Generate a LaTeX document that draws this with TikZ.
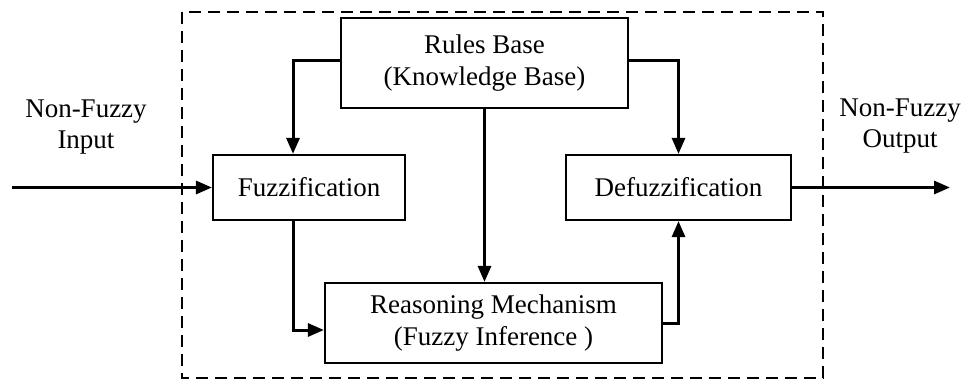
\documentclass[tikz,border=0pt]{standalone}
\usepackage{fontspec}
\setmainfont{Liberation Serif}
\usetikzlibrary{arrows.meta}
\begin{document}
\begin{tikzpicture}[x=1pt,y=-1pt,
  blk/.style={draw,line width=2.2pt,inner sep=0pt,align=center,
    font=\fontsize{27}{32}\selectfont},
  lbl/.style={align=center,font=\fontsize{27}{31}\selectfont},
  arr/.style={line width=3pt,-{Triangle[length=16pt,width=13pt]}}]
\useasboundingbox (0,0) rectangle (973,380);
\draw[line width=2.2pt,dash pattern=on 12pt off 7pt] (182,12) rectangle (823,378);
\node[blk,minimum width=287pt,minimum height=90pt] (rules) at (484.5,63) {Rules Base\\(Knowledge Base)};
\node[blk,minimum width=192pt,minimum height=65pt] (fuzz) at (309,187.5) {Fuzzification};
\node[blk,minimum width=225pt,minimum height=65pt] (defuzz) at (678.5,187.5) {Defuzzification};
\node[blk,minimum width=337pt,minimum height=80pt] (reason) at (493.5,323) {Reasoning Mechanism\\(Fuzzy Inference )};
\node[lbl] (inlbl) at (86,127) {Non-Fuzzy\\Input};
\node[lbl] (outlbl) at (900,126) {Non-Fuzzy\\Output};
\coordinate (in) at (12,187.5);
\coordinate (out) at (950,187.5);
\draw[arr] (in) -- (fuzz.west);
\draw[arr] (defuzz.east) -- (out);
\draw[arr] ([yshift=3pt]rules.west) -| ([xshift=-16pt]fuzz.north);
\draw[arr] ([yshift=3pt]rules.east) -| (defuzz.north);
\draw[arr] (rules.south) -- (rules.south |- reason.north);
\draw[arr] ([xshift=-16pt]fuzz.south) |- ([yshift=-7pt]reason.west);
\draw[arr] (reason.east) -| (defuzz.south);
\end{tikzpicture}
\end{document}
